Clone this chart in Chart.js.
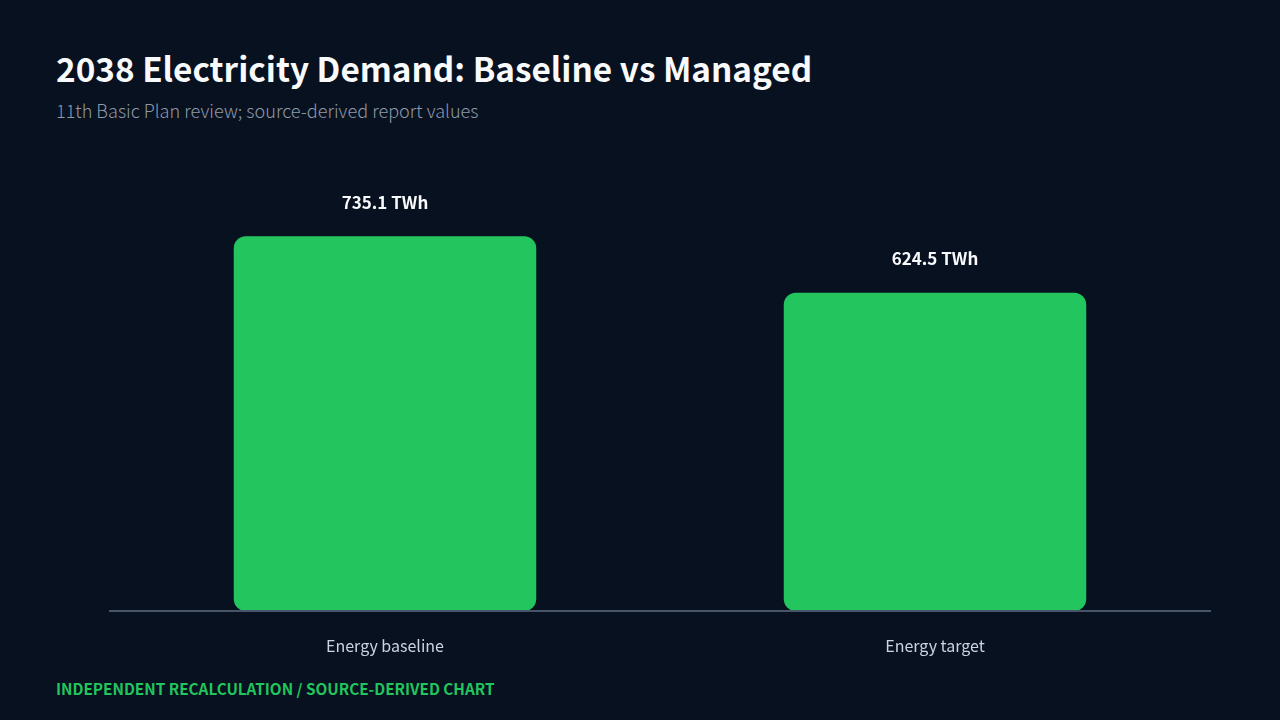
<!DOCTYPE html>
<html>
<head>
<meta charset="utf-8">
<script src="https://cdn.jsdelivr.net/npm/chart.js@4"></script>
<style>
  html, body { margin: 0; padding: 0; background: #08111f; }
  body { width: 1280px; height: 720px; position: relative; overflow: hidden; font-family: "Noto Sans CJK KR", "Noto Sans", sans-serif; }
  h1 { position: absolute; left: 56px; top: 43px; margin: 0; font-size: 33.3px; font-weight: 700; color: #f8fafc; letter-spacing: 0; }
  .sub { position: absolute; left: 56px; top: 97px; font-size: 18.1px; font-weight: 300; color: #8e99aa; }
  .foot { position: absolute; left: 56px; top: 677px; font-size: 15.3px; font-weight: 700; color: #22c55e; }
  #wrap { position: absolute; left: 0; top: 150px; width: 1280px; height: 511px; }
</style>
</head>
<body>
<h1>2038 Electricity Demand: Baseline vs Managed</h1>
<div class="sub">11th Basic Plan review; source-derived report values</div>
<div id="wrap"><canvas id="chart"></canvas></div>
<div class="foot">INDEPENDENT RECALCULATION / SOURCE-DERIVED CHART</div>
<script>
const categories = ['Energy baseline', 'Energy target'];
const demandTWh = [735.1, 624.5];
const unit = 'TWh';

// draws "735.1 TWh" above each bar
const valueLabels = {
    id: 'valueLabels',
    afterDatasetsDraw(chart) {
        const ctx = chart.ctx;
        const meta = chart.getDatasetMeta(0);
        ctx.save();
        ctx.fillStyle = '#f8fafc';
        ctx.font = '600 17px "Noto Sans CJK KR", "Noto Sans", sans-serif';
        ctx.textAlign = 'center';
        ctx.textBaseline = 'middle';
        meta.data.forEach((bar, i) => {
            ctx.fillText(demandTWh[i].toFixed(1) + ' ' + unit, bar.x, bar.y - 34);
        });
        ctx.restore();
    }
};

new Chart(document.getElementById('chart'), {
    type: 'bar',
    data: {
        labels: categories,
        datasets: [{
            data: demandTWh,
            backgroundColor: '#22c55e',
            borderRadius: 12,
            borderSkipped: false,
            categoryPercentage: 0.55,
            barPercentage: 1.0
        }]
    },
    options: {
        responsive: true,
        maintainAspectRatio: false,
        animation: false,
        layout: { padding: { top: 54, left: 110, right: 70, bottom: 0 } },
        plugins: {
            legend: { display: false },
            tooltip: { enabled: false }
        },
        scales: {
            x: {
                grid: { display: false, drawTicks: false },
                border: { display: true, color: '#475569', width: 2, z: 1 },
                ticks: {
                    color: '#cbd5e1',
                    padding: 25,
                    font: { family: '"Noto Sans CJK KR", "Noto Sans", sans-serif', size: 16 }
                },
                afterFit(scale) { scale.height = 50; }
            },
            y: {
                display: false,
                min: 0,
                max: 798.5
            }
        }
    },
    plugins: [valueLabels]
});
</script>
</body>
</html>
